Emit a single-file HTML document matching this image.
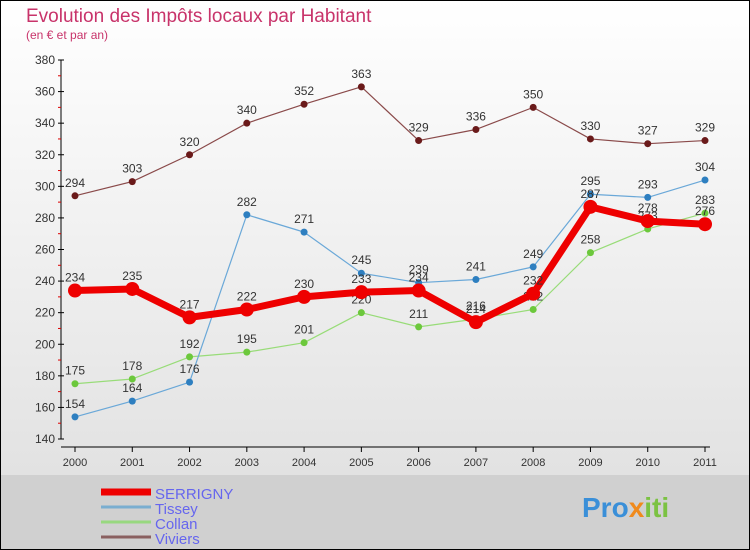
<!DOCTYPE html>
<html><head><meta charset="utf-8"><style>
body{margin:0;}
#wrap{width:750px;height:550px;position:relative;overflow:hidden;font-family:"Liberation Sans",sans-serif;}
svg text{font-family:"Liberation Sans",sans-serif;}
</style></head><body>
<div id="wrap">
<svg id="chart" width="750" height="550" xmlns="http://www.w3.org/2000/svg">
<defs>
<linearGradient id="bg" x1="0" y1="0" x2="0" y2="1">
<stop offset="0" stop-color="#ffffff"/><stop offset="1" stop-color="#e2e2e2"/>
</linearGradient>
</defs>
<rect x="0" y="0" width="750" height="475" fill="url(#bg)"/>
<rect x="0" y="475" width="750" height="75" fill="#d0d0d0"/>
<rect x="0.5" y="0.5" width="749" height="549" fill="none" stroke="#000"/>
<text x="26" y="22" font-size="19" fill="#c8336a">Evolution des Impôts locaux par Habitant</text>
<text x="26" y="39" font-size="12" fill="#c8336a">(en € et par an)</text>
<g id="axes"></g>
<g id="series"></g>
<g id="legend"></g>
<text x="582" y="517" font-size="28" font-weight="bold" fill="#3a8fd8">Pro<tspan fill="#f08a1c">x</tspan><tspan fill="#7bc242">iti</tspan></text>
</svg>
</div>
<script>
const years = [2000,2001,2002,2003,2004,2005,2006,2007,2008,2009,2010,2011];
const yTicks = [140,160,180,200,220,240,260,280,300,320,340,360,380];
const serrigny = [234,235,217,222,230,233,234,214,232,287,278,276];
const tissey = [154,164,176,282,271,245,239,241,249,295,293,304];
const collan = [175,178,192,195,201,220,211,216,222,258,273,283];
const viviers = [294,303,320,340,352,363,329,336,350,330,327,329];

const NS="http://www.w3.org/2000/svg";
function xS(i){return 75+i*(705-75)/(years.length-1);}
function yS(v){return 439-(v-140)*(379/240);}
function mk(tag,attrs,parent){const e=document.createElementNS(NS,tag);for(const k in attrs)e.setAttribute(k,attrs[k]);parent.appendChild(e);return e;}
const axes=document.getElementById('axes');
const ax=mk('line',{x1:61,y1:yS(380),x2:61,y2:yS(140),stroke:'#000'},axes);


const bx=mk('line',{x1:61,y1:447,x2:710,y2:447,stroke:'#000'},axes);


yTicks.forEach((v,i)=>{
  const y=yS(v);
  mk('line',{x1:58,y1:y,x2:64,y2:y,stroke:'#000'},axes);
  if(i<yTicks.length-1){mk('line',{x1:58,y1:y-15.8,x2:61,y2:y-15.8,stroke:'#d00'},axes);}
  const t=mk('text',{x:55,y:y+4,'font-size':12,fill:'#333','text-anchor':'end'},axes);
  t.textContent=v;
  
  
});
years.forEach((yr,i)=>{
  const x=xS(i);
  mk('line',{x1:x,y1:447,x2:x,y2:452,stroke:'#000'},axes);
  const t=mk('text',{x:x,y:466,'font-size':11,fill:'#333','text-anchor':'middle'},axes);
  t.textContent=yr;
  
  
});
const sg=document.getElementById('series');
function drawSeries(vals,color,w,r,name,dot){
  const g=mk('g',{},sg);
  
  
  const pl=mk('polyline',{points:vals.map((v,i)=>xS(i)+','+yS(v)).join(' '),fill:'none',stroke:color,'stroke-width':w,'stroke-linejoin':'round'},g);
  
  
  vals.forEach((v,i)=>{
    const c=mk('circle',{cx:xS(i),cy:yS(v),r:r,fill:dot},g);
    
    
    const t=mk('text',{x:xS(i),y:yS(v)-9,'font-size':12,fill:'#333','text-anchor':'middle'},g);
    t.textContent=v;
    
    
  });
}
drawSeries(viviers,'#8a4a4a',1.2,3.5,'viviers','#6a1a1a');
drawSeries(collan,'#98dc78',1.2,3.5,'collan','#6cc83c');
drawSeries(tissey,'#6aa8d8',1.2,3.5,'tissey','#2e7fc0');
drawSeries(serrigny,'#ee0000',7,7,'serrigny','#ee0000');
const lg=document.getElementById('legend');
const items=[['SERRIGNY','#ee0000',7],['Tissey','#7aaed0',3],['Collan','#98d880',3],['Viviers','#8a6060',3]];
items.forEach((it,i)=>{
  const y=492+i*15;
  const l=mk('line',{x1:101,y1:y,x2:151,y2:y,stroke:it[1],'stroke-width':it[2]},lg);
  
  
  const t=mk('text',{x:155,y:y+7,'font-size':15,fill:'#6666ee'},lg);
  t.textContent=it[0];
  
  
});
</script>
</body></html>
